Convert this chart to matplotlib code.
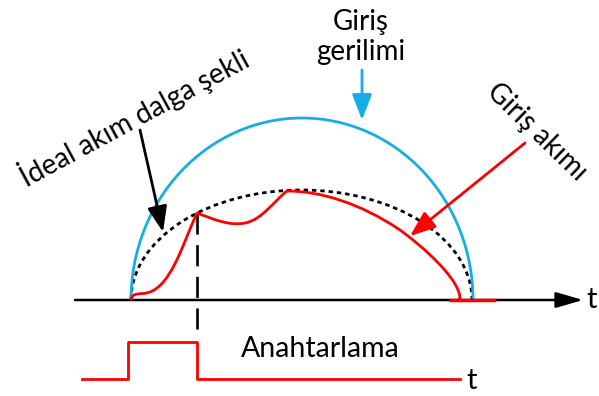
import matplotlib
matplotlib.use("Agg")
import matplotlib.pyplot as plt
from matplotlib.patches import Arc, PathPatch
from matplotlib.path import Path

plt.rcParams['font.family'] = ['Lato', 'DejaVu Sans']

# ---- data (pixel-like diagram coordinates, y downward) ----
baseline_y = 300
axis_x = [75, 583]
voltage_center = (302, 300)
voltage_width = 342
voltage_height = 364
ideal_center = (301.5, 300)
ideal_width = 341
ideal_height = 220

# input current: cubic Bezier control points
current_x = [131, 132, 136, 143, 170, 182, 197, 215, 230, 245, 262, 275, 287,
             320, 360, 400, 430, 452, 458, 460, 461, 458]
current_y = [300, 294, 294, 293.5, 292, 245, 213, 220, 226, 223, 220, 200, 191,
             191, 203, 230, 252, 275, 290, 295, 299, 300]
current_tail_x = [451, 494]
current_tail_y = [300, 300]

switch_x = [82, 128, 128, 197, 197, 460]
switch_y = [379, 379, 342, 342, 379, 379]

switch_instant_x = [197, 197]
switch_instant_y = [213, 329]

fig = plt.figure(figsize=(5.99, 3.96), dpi=100)
ax = fig.add_axes([0, 0, 1, 1])
ax.set_xlim(0, 599)
ax.set_ylim(396, 0)
ax.axis('off')

blue = '#16ADE6'
red = '#FF0000'

# voltage semicircle
ax.add_patch(Arc(voltage_center, voltage_width, voltage_height, theta1=180, theta2=360,
                 color=blue, lw=2.0, zorder=3))
# ideal current dotted
ax.add_patch(Arc(ideal_center, ideal_width, ideal_height, theta1=180, theta2=360,
                 color='black', lw=2.0, linestyle=(0, (1.6, 1.4)), zorder=2))

# time axis
ax.annotate('', xy=(axis_x[1], baseline_y), xytext=(axis_x[0], baseline_y),
            arrowprops=dict(arrowstyle='-|>,head_length=1.1,head_width=0.32',
                            color='black', lw=1.8, mutation_scale=15, shrinkA=0, shrinkB=0),
            zorder=4)
ax.text(586, 300, 't', fontsize=21, va='center', ha='left')

# red current (Bezier path)
codes = [Path.MOVETO] + [Path.CURVE4] * (len(current_x) - 1)
verts = list(zip(current_x, current_y))
ax.add_patch(PathPatch(Path(verts, codes), facecolor='none', edgecolor=red, lw=2.0,
                       zorder=5, joinstyle='round'))
ax.plot(current_tail_x, current_tail_y, color=red, lw=2.5, zorder=5)

# dashed switching instant
ax.plot(switch_instant_x, switch_instant_y, color='black', lw=1.9,
        linestyle=(0, (8, 4)), zorder=4)

# switching waveform
ax.plot(switch_x, switch_y, color=red, lw=2.0, zorder=5)
ax.text(466, 381, 't', fontsize=21, va='center', ha='left')
ax.text(320, 349, 'Anahtarlama', fontsize=20.5, va='center', ha='center')

# labels
ax.text(361, 37, 'Giriş\ngerilimi', fontsize=20, va='center', ha='center', linespacing=1.15)
ax.annotate('', xy=(362, 120), xytext=(362, 70),
            arrowprops=dict(arrowstyle='-|>,head_length=1.3,head_width=0.5',
                            color=blue, lw=2.0, mutation_scale=12, shrinkA=0, shrinkB=0))

ax.text(134, 117, 'İdeal akım dalga şekli', fontsize=20, va='center', ha='center',
        rotation=28.5, rotation_mode='anchor')
ax.annotate('', xy=(163, 232), xytext=(140, 130),
            arrowprops=dict(arrowstyle='-|>,head_length=1.3,head_width=0.5',
                            color='black', lw=2.0, mutation_scale=12, shrinkA=0, shrinkB=0))

ax.text(537, 132, 'Giriş akımı', fontsize=20, va='center', ha='center',
        rotation=-44, rotation_mode='anchor')
ax.annotate('', xy=(410, 236), xytext=(525, 143),
            arrowprops=dict(arrowstyle='-|>,head_length=1.3,head_width=0.5',
                            color=red, lw=2.0, mutation_scale=12, shrinkA=0, shrinkB=0))

fig.savefig('out.png', dpi=100)
